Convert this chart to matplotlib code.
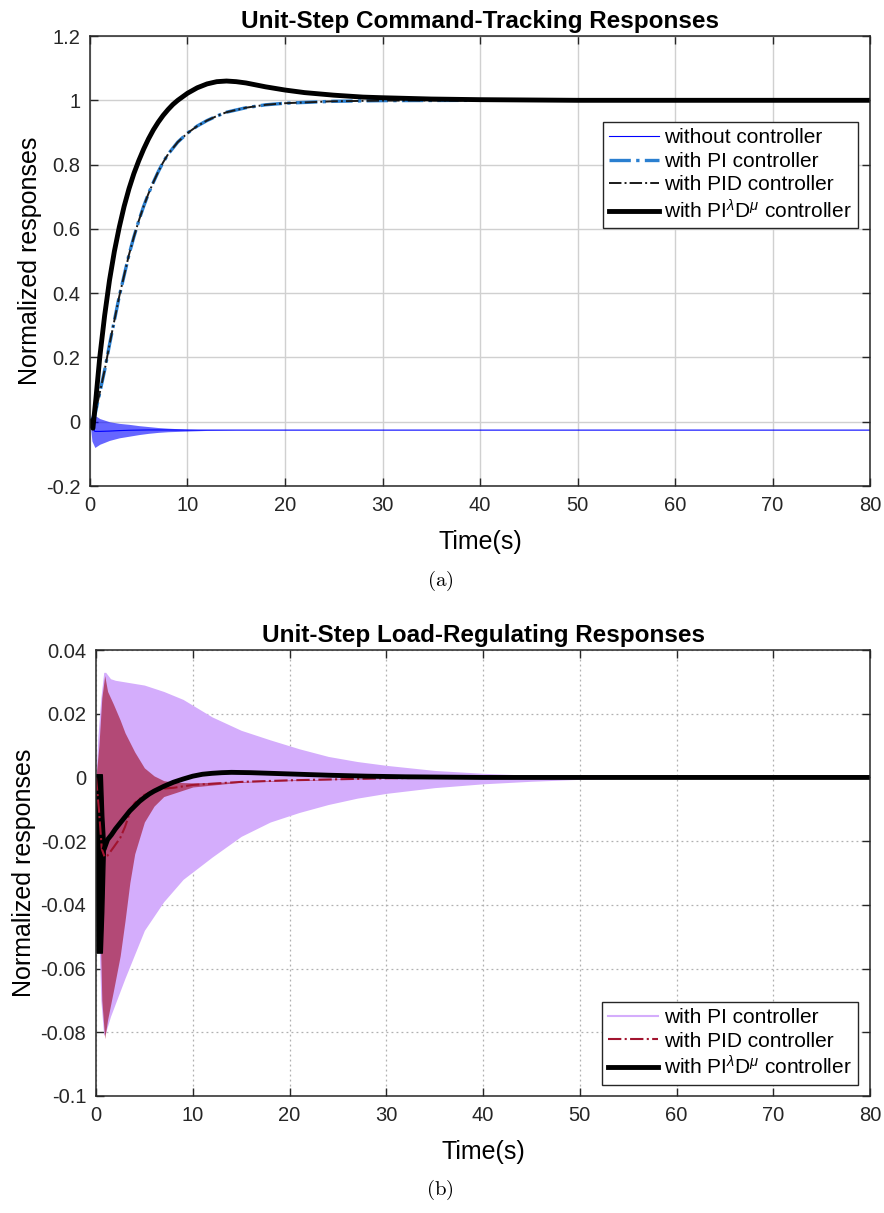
import matplotlib.pyplot as plt
from matplotlib.ticker import FuncFormatter
import numpy as np

plt.rcParams['font.family'] = ['Liberation Sans', 'DejaVu Sans']
plt.rcParams['mathtext.fontset'] = 'custom'
plt.rcParams['mathtext.rm'] = 'Liberation Sans'
plt.rcParams['mathtext.it'] = 'Liberation Sans:italic'

# ---- (a) command tracking ----
t_nc = [0, 0.2, 0.5, 1, 2, 3, 4, 5, 6, 7, 8, 10, 12, 15, 80]
nc_upper = [0, 0.03, 0.02, 0.01, 0.0, -0.005, -0.008, -0.012, -0.015, -0.018, -0.020, -0.023, -0.025, -0.026, -0.026]
nc_lower = [0, -0.06, -0.08, -0.07, -0.058, -0.05, -0.045, -0.040, -0.036, -0.033, -0.031, -0.029, -0.027, -0.026, -0.026]

t_pid = [0, 0.5, 1, 1.5, 2, 2.5, 3, 3.5, 4, 4.5, 5, 5.5, 6, 6.5, 7, 7.5, 8, 9, 10, 11, 12, 13, 14, 16, 18, 20, 25, 30, 40, 80]
y_pi = [0, 0.02, 0.09, 0.16, 0.24, 0.315, 0.39, 0.455, 0.52, 0.575, 0.625, 0.67, 0.71, 0.745, 0.778, 0.807, 0.832,
        0.87, 0.898, 0.92, 0.937, 0.951, 0.963, 0.977, 0.986, 0.991, 0.997, 0.999, 1.0, 1.0]
y_pid = [0, 0.02, 0.09, 0.16, 0.24, 0.315, 0.39, 0.455, 0.52, 0.575, 0.625, 0.67, 0.71, 0.745, 0.778, 0.807, 0.832,
         0.87, 0.898, 0.92, 0.937, 0.951, 0.963, 0.977, 0.986, 0.991, 0.997, 0.999, 1.0, 1.0]

t_fo = [0, 0.3, 0.6, 1, 1.5, 2, 2.5, 3, 3.5, 4, 4.5, 5, 5.5, 6, 6.5, 7, 7.5, 8, 8.5, 9, 10, 11, 12, 13, 14, 15, 16,
        17, 18, 20, 22, 25, 28, 30, 35, 40, 50, 80]
y_fo = [0, -0.02, 0.07, 0.2, 0.33, 0.44, 0.53, 0.605, 0.67, 0.725, 0.772, 0.812, 0.848, 0.88, 0.908, 0.932, 0.953,
        0.971, 0.987, 1.0, 1.022, 1.039, 1.051, 1.058, 1.06, 1.058, 1.054, 1.048, 1.042, 1.032, 1.024, 1.016, 1.01,
        1.008, 1.004, 1.002, 1.0, 1.0]

# ---- (b) load regulation ----
t_pi_b = [0, 0.2, 0.5, 0.8, 1.0, 1.5, 2, 3, 5, 7, 9, 12, 15, 18, 21, 24, 27, 30, 35, 40, 45, 50, 55, 60, 80]
pi_upper = [0, 0.013, 0.025, 0.033, 0.033, 0.031, 0.0305, 0.030, 0.029, 0.027, 0.0245, 0.019, 0.0148, 0.0118, 0.0090,
            0.0066, 0.0050, 0.0038, 0.0022, 0.0013, 0.0007, 0.0004, 0.0002, 0.0001, 0]
pi_lower = [0, -0.04, -0.07, -0.081, -0.08, -0.075, -0.071, -0.063, -0.048, -0.039, -0.032, -0.025, -0.0185, -0.014,
            -0.011, -0.0085, -0.0065, -0.0050, -0.0032, -0.0020, -0.0012, -0.0006, -0.0003, -0.0001, 0]

t_pid_b = [0, 0.3, 0.6, 0.9, 1.2, 1.8, 2.5, 3, 3.5, 4, 5, 6, 7, 8, 10, 15, 20, 30, 40, 80]
pid_upper = [0, 0.01, 0.025, 0.032, 0.027, 0.023, 0.018, 0.014, 0.011, 0.008, 0.003, 0.0005, -0.001, -0.0015, -0.0017,
             -0.0013, -0.0008, -0.0002, 0, 0]
pid_lower = [0, -0.03, -0.07, -0.082, -0.076, -0.067, -0.056, -0.045, -0.033, -0.024, -0.014, -0.009, -0.006, -0.005,
             -0.003, -0.0015, -0.001, -0.0003, 0, 0]

t_fo_band = [0, 0.05, 0.6, 0.75, 0.9]
fo_upper = [0.001, 0.001, 0.001, -0.012, -0.02]
fo_lower = [-0.02, -0.055, -0.055, -0.042, -0.024]
t_fo_b = [0.9, 1.2, 1.6, 2, 2.5, 3, 3.5, 4, 4.5, 5, 5.5, 6, 7, 8, 9, 10, 11, 12, 13, 14, 16, 18, 20, 24, 28, 32, 40, 80]
y_fo_b = [-0.022, -0.0195, -0.018, -0.0162, -0.0143, -0.0124, -0.0105, -0.009, -0.0075, -0.0063, -0.0052, -0.0043,
          -0.0028, -0.0015, -0.0005, 0.0004, 0.001, 0.0013, 0.0015, 0.0016, 0.0015, 0.0013, 0.0011, 0.0007, 0.0004,
          0.0002, 0.0, 0.0]

fig = plt.figure(figsize=(8.84, 12.13), dpi=100)
ax1 = fig.add_axes([0.1018, 0.5993, 0.8824, 0.3710])
ax2 = fig.add_axes([0.1086, 0.0965, 0.8756, 0.3676])

fmt = FuncFormatter(lambda v, p: '%g' % round(v, 4))
mu_lbl = 'with PI$^{\\lambda}$D$^{\\mu}$ controller'
leg_kw = dict(fontsize=15, handlelength=2.4, fancybox=False, edgecolor='#262626', framealpha=1,
              borderpad=0.3, labelspacing=0.22, handletextpad=0.25, borderaxespad=0)

# top
ax1.fill_between(t_nc, nc_lower, nc_upper, color='#0000ff', alpha=0.6, lw=0)
nc_mid = (np.array(nc_upper) + np.array(nc_lower)) / 2
ax1.plot(t_nc, nc_mid, color='#0000ff', lw=0.8, label='without controller')
ax1.plot(t_pid, y_pi, color='#2a7fd0', lw=2.4, ls='-.', label='with PI controller')
ax1.plot(t_pid, y_pid, color='#1a1a1a', lw=1.4, ls='-.', label='with PID controller')
ax1.plot(t_fo, y_fo, color='black', lw=3.5, label=mu_lbl)
ax1.set_xlim(0, 80)
ax1.set_ylim(-0.2, 1.2)
ax1.set_yticks(np.arange(-0.2, 1.21, 0.2))
ax1.grid(True, color='#d0d0d0', lw=1.0)
ax1.set_title('Unit-Step Command-Tracking Responses', fontsize=17.5, fontweight='bold', pad=6)
ax1.set_xlabel('Time(s)', fontsize=18, labelpad=11)
ax1.set_ylabel('Normalized responses', fontsize=18, labelpad=3)
leg1 = ax1.legend(loc='upper right', bbox_to_anchor=(0.985, 0.809), **leg_kw)
leg1.get_frame().set_linewidth(1.0)

# bottom
ax2.fill_between(t_pi_b, pi_lower, pi_upper, color='#d4adfc', lw=0)
ax2.plot([], [], color='#d4adfc', lw=1.5, label='with PI controller')
ax2.fill_between(t_pid_b, pid_lower, pid_upper, color='#a2142f', alpha=0.65, lw=0)
pid_mid = (np.array(pid_upper) + np.array(pid_lower)) / 2
ax2.plot(t_pid_b, pid_mid, color='#a2142f', lw=1.5, ls='-.', label='with PID controller')
ax2.fill_between(t_fo_band, fo_lower, fo_upper, color='black', lw=1)
ax2.plot(t_fo_b, y_fo_b, color='black', lw=3.5, label=mu_lbl)
ax2.set_xlim(0, 80)
ax2.set_ylim(-0.1, 0.04)
ax2.set_yticks(np.arange(-0.1, 0.041, 0.02))
ax2.grid(True, color='#b0b0b0', lw=0.9, ls=(0, (1.5, 2.5)))
ax2.set_title('Unit-Step Load-Regulating Responses', fontsize=17.5, fontweight='bold', pad=6)
ax2.set_xlabel('Time(s)', fontsize=18, labelpad=11)
ax2.set_ylabel('Normalized responses', fontsize=18, labelpad=3)
leg2 = ax2.legend(loc='lower right', bbox_to_anchor=(0.984, 0.025), **leg_kw)
leg2.get_frame().set_linewidth(1.0)

for ax in (ax1, ax2):
    ax.set_xticks(np.arange(0, 81, 10))
    ax.xaxis.set_major_formatter(fmt)
    ax.yaxis.set_major_formatter(fmt)
    ax.tick_params(direction='in', length=6, width=1.0, top=True, right=True, labelsize=14.5,
                   colors='#262626', pad=7)
    ax.set_axisbelow(True)
    for s in ax.spines.values():
        s.set_color('#262626')
        s.set_linewidth(1.1)

fig.text(0.498, 0.521, '$\\mathrm{(a)}$', ha='center', va='center', fontsize=15, math_fontfamily='cm')
fig.text(0.498, 0.019, '$\\mathrm{(b)}$', ha='center', va='center', fontsize=15, math_fontfamily='cm')

fig.savefig('out.png', dpi=100)
